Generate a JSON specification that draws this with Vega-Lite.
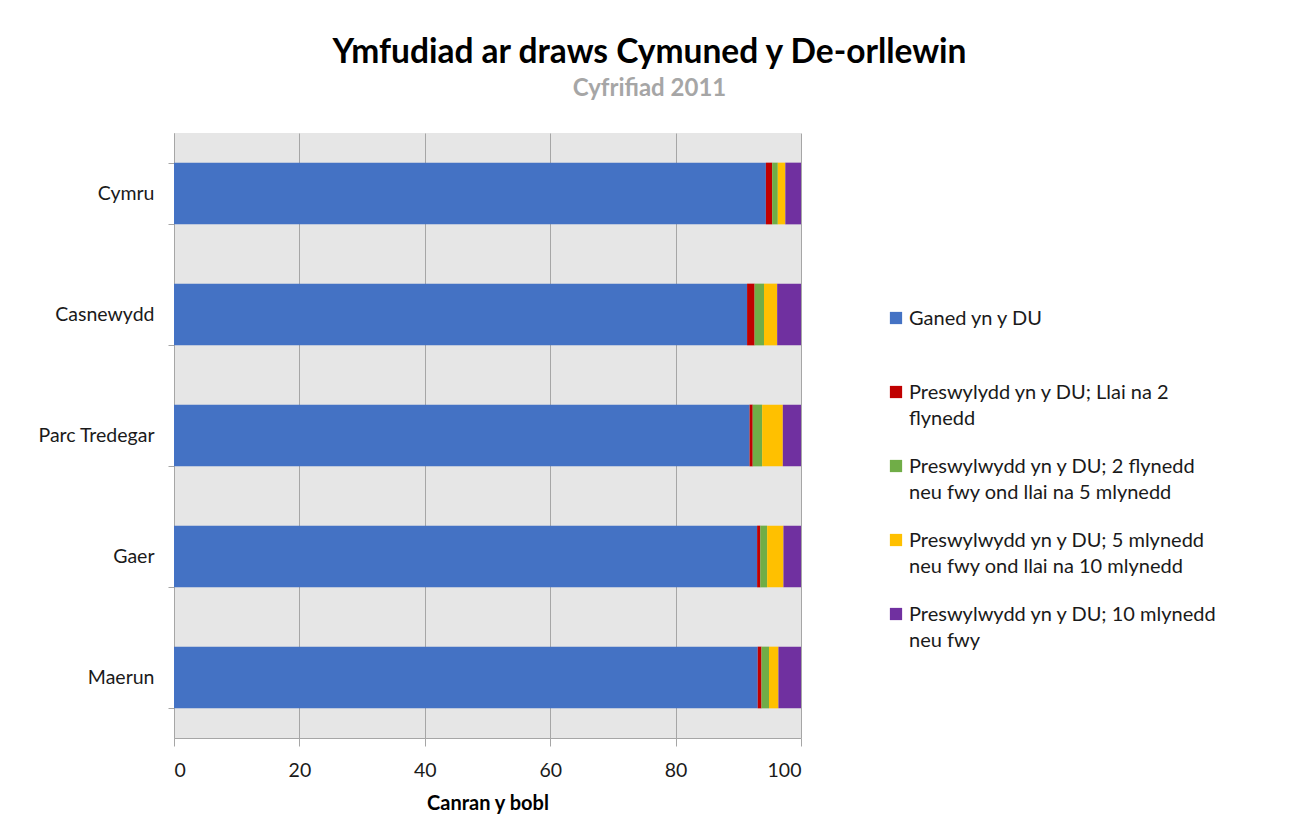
{
  "$schema": "https://vega.github.io/schema/vega-lite/v6.json",
  "width": 627,
  "height": 605,
  "autosize": "none",
  "padding": {"left": 174, "top": 133, "right": 488, "bottom": 100},
  "background": "white",
  "title": {
    "text": "Ymfudiad ar draws Cymuned y De-orllewin",
    "subtitle": "Cyfrifiad 2011",
    "anchor": "middle",
    "dx": 162,
    "offset": 21,
    "font": "Lato",
    "fontSize": 33.5,
    "fontWeight": "bold",
    "color": "#000000",
    "subtitleFont": "Lato",
    "subtitleFontSize": 24,
    "subtitleFontWeight": "bold",
    "subtitleColor": "#a6a6a6",
    "subtitlePadding": 7
  },
  "data": {
    "values": [
      {"ardal": "Cymru", "categori": "Ganed yn y DU", "trefn": 1, "canran": 94.4},
      {"ardal": "Cymru", "categori": "Preswylydd yn y DU; Llai na 2 flynedd", "trefn": 2, "canran": 1.0},
      {"ardal": "Cymru", "categori": "Preswylwydd yn y DU; 2 flynedd neu fwy ond llai na 5 mlynedd", "trefn": 3, "canran": 0.9},
      {"ardal": "Cymru", "categori": "Preswylwydd yn y DU; 5 mlynedd neu fwy ond llai na 10 mlynedd", "trefn": 4, "canran": 1.2},
      {"ardal": "Cymru", "categori": "Preswylwydd yn y DU; 10 mlynedd neu fwy", "trefn": 5, "canran": 2.5},
      {"ardal": "Casnewydd", "categori": "Ganed yn y DU", "trefn": 1, "canran": 91.4},
      {"ardal": "Casnewydd", "categori": "Preswylydd yn y DU; Llai na 2 flynedd", "trefn": 2, "canran": 1.2},
      {"ardal": "Casnewydd", "categori": "Preswylwydd yn y DU; 2 flynedd neu fwy ond llai na 5 mlynedd", "trefn": 3, "canran": 1.5},
      {"ardal": "Casnewydd", "categori": "Preswylwydd yn y DU; 5 mlynedd neu fwy ond llai na 10 mlynedd", "trefn": 4, "canran": 2.1},
      {"ardal": "Casnewydd", "categori": "Preswylwydd yn y DU; 10 mlynedd neu fwy", "trefn": 5, "canran": 3.8},
      {"ardal": "Parc Tredegar", "categori": "Ganed yn y DU", "trefn": 1, "canran": 91.8},
      {"ardal": "Parc Tredegar", "categori": "Preswylydd yn y DU; Llai na 2 flynedd", "trefn": 2, "canran": 0.5},
      {"ardal": "Parc Tredegar", "categori": "Preswylwydd yn y DU; 2 flynedd neu fwy ond llai na 5 mlynedd", "trefn": 3, "canran": 1.5},
      {"ardal": "Parc Tredegar", "categori": "Preswylwydd yn y DU; 5 mlynedd neu fwy ond llai na 10 mlynedd", "trefn": 4, "canran": 3.3},
      {"ardal": "Parc Tredegar", "categori": "Preswylwydd yn y DU; 10 mlynedd neu fwy", "trefn": 5, "canran": 2.9},
      {"ardal": "Gaer", "categori": "Ganed yn y DU", "trefn": 1, "canran": 93.0},
      {"ardal": "Gaer", "categori": "Preswylydd yn y DU; Llai na 2 flynedd", "trefn": 2, "canran": 0.5},
      {"ardal": "Gaer", "categori": "Preswylwydd yn y DU; 2 flynedd neu fwy ond llai na 5 mlynedd", "trefn": 3, "canran": 1.1},
      {"ardal": "Gaer", "categori": "Preswylwydd yn y DU; 5 mlynedd neu fwy ond llai na 10 mlynedd", "trefn": 4, "canran": 2.6},
      {"ardal": "Gaer", "categori": "Preswylwydd yn y DU; 10 mlynedd neu fwy", "trefn": 5, "canran": 2.8},
      {"ardal": "Maerun", "categori": "Ganed yn y DU", "trefn": 1, "canran": 93.1},
      {"ardal": "Maerun", "categori": "Preswylydd yn y DU; Llai na 2 flynedd", "trefn": 2, "canran": 0.6},
      {"ardal": "Maerun", "categori": "Preswylwydd yn y DU; 2 flynedd neu fwy ond llai na 5 mlynedd", "trefn": 3, "canran": 1.2},
      {"ardal": "Maerun", "categori": "Preswylwydd yn y DU; 5 mlynedd neu fwy ond llai na 10 mlynedd", "trefn": 4, "canran": 1.5},
      {"ardal": "Maerun", "categori": "Preswylwydd yn y DU; 10 mlynedd neu fwy", "trefn": 5, "canran": 3.6}
    ]
  },
  "mark": {"type": "bar"},
  "encoding": {
    "y": {
      "field": "ardal",
      "type": "nominal",
      "sort": ["Cymru", "Casnewydd", "Parc Tredegar", "Gaer", "Maerun"],
      "scale": {"paddingInner": 0.49, "paddingOuter": 0.245},
      "axis": {
        "title": null,
        "tickBand": "extent",
        "tickSize": 6,
        "tickColor": "#a6a6a6",
        "domainColor": "#a6a6a6",
        "grid": false,
        "labelFont": "Lato",
        "labelFontSize": 19.5,
        "labelColor": "#1a1a1a",
        "labelPadding": 14
      }
    },
    "x": {
      "field": "canran",
      "type": "quantitative",
      "stack": "zero",
      "scale": {"domain": [0, 100], "nice": false},
      "axis": {
        "title": "Canran y bobl",
        "titleFont": "Lato",
        "titleFontSize": 20,
        "titleFontWeight": "bold",
        "titleColor": "#000000",
        "titlePadding": 14,
        "values": [0, 20, 40, 60, 80, 100],
        "tickSize": 8,
        "tickColor": "#a6a6a6",
        "domainColor": "#a6a6a6",
        "gridColor": "#a6a6a6",
        "gridOpacity": 1,
        "labelFont": "Lato",
        "labelFontSize": 19.5,
        "labelColor": "#1a1a1a",
        "labelPadding": 15
      }
    },
    "color": {
      "field": "categori",
      "type": "nominal",
      "scale": {
        "domain": [
          "Ganed yn y DU",
          "Preswylydd yn y DU; Llai na 2 flynedd",
          "Preswylwydd yn y DU; 2 flynedd neu fwy ond llai na 5 mlynedd",
          "Preswylwydd yn y DU; 5 mlynedd neu fwy ond llai na 10 mlynedd",
          "Preswylwydd yn y DU; 10 mlynedd neu fwy"
        ],
        "range": ["#4472C4", "#C00000", "#70AD47", "#FFC000", "#7030A0"]
      },
      "legend": {
        "title": null,
        "orient": "none",
        "legendX": 712,
        "legendY": 175,
        "symbolType": "square",
        "symbolSize": 150,
        "symbolStrokeWidth": 0,
        "labelFont": "Lato",
        "labelFontSize": 20,
        "labelColor": "#1a1a1a",
        "labelLimit": 400,
        "labelOffset": 3,
        "labelBaseline": "alphabetic",
        "rowPadding": 27,
        "labelExpr": "indexof(datum.label, ' neu ') > 0 ? [substring(datum.label, 0, indexof(datum.label, ' neu ')), substring(datum.label, indexof(datum.label, ' neu ') + 1)] : (indexof(datum.label, 'Llai') > 0 ? [substring(datum.label, 0, lastindexof(datum.label, ' ')), substring(datum.label, lastindexof(datum.label, ' ') + 1)] : [datum.label, ' '])",
        "encode": {"labels": {"update": {"dy": {"value": 7}}}}
      }
    },
    "order": {"field": "trefn", "type": "quantitative"}
  },
  "config": {
    "view": {"fill": "#e6e6e6", "stroke": null},
    "style": {"guide-label": {"lineHeight": 26}}
  }
}
